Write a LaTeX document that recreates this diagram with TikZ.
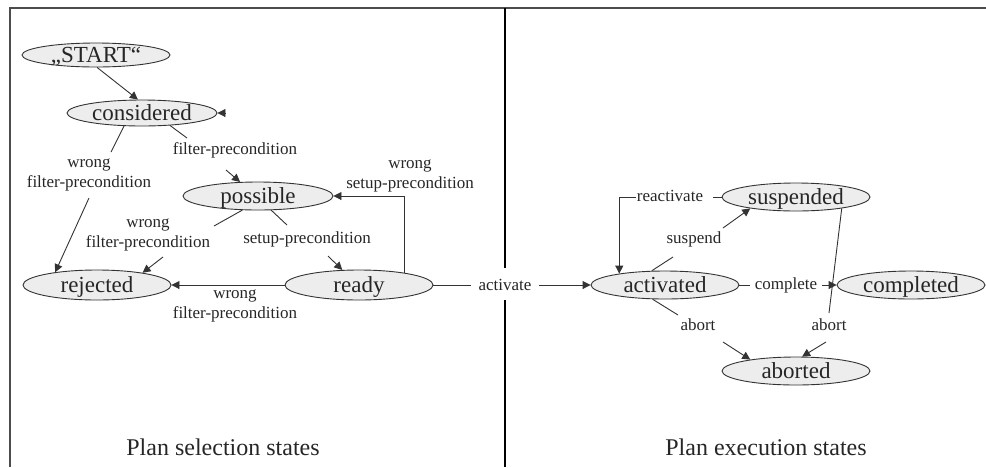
\documentclass[tikz,border=0pt]{standalone}
\usepackage{fontspec}
\setmainfont{Liberation Serif}
\usetikzlibrary{shapes.geometric,arrows.meta}
\begin{document}
\begin{tikzpicture}[x=1pt,y=-1pt,
 state/.style={ellipse,draw=black!80,line width=0.9pt,fill=black!7,minimum width=148pt,minimum height=28pt,inner sep=0pt,text height=14pt,text depth=0pt,text=black!85,font=\fontsize{23}{23}\selectfont},
 lbl/.style={font=\fontsize{17}{19.5}\selectfont,align=center,inner sep=0pt,text=black!85},
 title/.style={font=\fontsize{24}{24}\selectfont,text=black!85},
 conn/.style={line width=0.9pt,draw=black!80},
 arr/.style={conn,-{Triangle[length=8pt,width=8pt]}},
 frame/.style={line width=2pt,draw=black!70},
 divider/.style={line width=2.5pt,draw=black},
]
\useasboundingbox (0,0) rectangle (986,467);
% frame and divider
\draw[frame] (986,8) -- (10,8) -- (10,467);
\draw[divider] (505,8) -- (505,268);
\draw[divider] (505,300) -- (505,467);
% states
\node[state,minimum height=24pt] (start) at (96,55) {„START“};
\node[state,minimum width=150pt,minimum height=26pt] (considered) at (142,113) {considered};
\node[state,minimum width=150pt] (possible) at (258,196) {possible};
\node[state,minimum height=30pt] (rejected) at (97,285) {rejected};
\node[state,minimum height=30pt] (ready) at (359,285) {ready};
\node[state] (activated) at (665,285) {activated};
\node[state] (suspended) at (796,197) {suspended};
\node[state] (completed) at (911,285) {completed};
\node[state] (aborted) at (796,371) {aborted};
% labels
\node[lbl] (l1) at (235,150) {filter-precondition};
\node[lbl] (l2) at (89,175) {wrong\\filter-precondition};
\node[lbl] (l3) at (148,235) {wrong\\filter-precondition};
\node[lbl] (l4) at (307,239) {setup-precondition};
\node[lbl] (l5) at (410,176) {wrong\\setup-precondition};
\node[lbl] (l6) at (235,306) {wrong\\filter-precondition};
\node[lbl,inner xsep=7pt] (l7) at (505,285) {activate};
\node[lbl] (l8) at (670,196) {reactivate};
\node[lbl] (l9) at (694,239) {suspend};
\node[lbl,inner xsep=5pt] (l10) at (786,285) {complete};
\node[lbl] (l11) at (698,325) {abort};
\node[lbl] (l12) at (829,325) {abort};
% break points
\coordinate (c1a) at (187,138); \coordinate (c1b) at (226,170);
\coordinate (c2a) at (111,152); \coordinate (c2b) at (89,198);
\coordinate (c3a) at (214,226); \coordinate (c3b) at (163,257);
\coordinate (c4a) at (287,225); \coordinate (c4b) at (328,256);
\coordinate (c8a) at (713,197); \coordinate (c8b) at (636,197);
\coordinate (c9a) at (673,257); \coordinate (c9b) at (723,228);
\coordinate (c11a) at (678,315); \coordinate (c11b) at (723,342);
\coordinate (c12a) at (829,313); \coordinate (c12b) at (826,342);
\coordinate (stub) at (225,113);
% connectors
\draw[arr] (start.-85) -- (considered.107);
\draw[arr] (stub) -- (considered.east);
\draw[conn] (considered.-24) -- (c1a);
\draw[arr] (c1b) -- (possible.142);
\draw[conn] (considered.-144) -- (c2a);
\draw[arr] (c2b) -- (rejected.163);
\draw[conn] (possible.-138) -- (c3a);
\draw[arr] (c3b) -- (rejected.15);
\draw[conn] (possible.-47) -- (c4a);
\draw[arr] (c4b) -- (ready.138);
\draw[arr] (ready.15) |- (possible.east);
\draw[arr] (ready.west) -- (rejected.east);
\draw[conn] (ready.east) -- (l7.west);
\draw[arr] (l7.east) -- (activated.west);
\draw[conn] (suspended.west) -- (c8a);
\draw[arr] (c8b) -| (activated.166);
\draw[conn] (activated.133) -- (c9a);
\draw[arr] (c9b) -- (suspended.-166);
\draw[conn] (activated.east) -- (l10.west);
\draw[arr] (l10.east) -- (completed.west);
\draw[conn] (activated.-131) -- (c11a);
\draw[arr] (c11b) -- (aborted.166);
\draw[conn] (suspended.-14) -- (c12a);
\draw[arr] (c12b) -- (aborted.67);
% titles
\node[title] (t1) at (223,447) {Plan selection states};
\node[title] (t2) at (766,447) {Plan execution states};
\end{tikzpicture}
\end{document}
